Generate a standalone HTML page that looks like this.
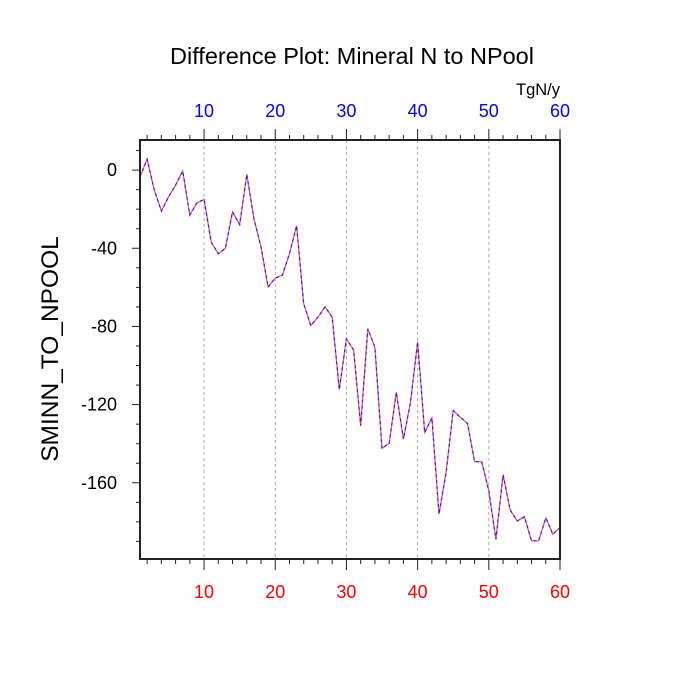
<!DOCTYPE html>
<html><head><meta charset="utf-8"><style>
html,body{margin:0;padding:0;background:#fff;}
svg{display:block;font-family:"Liberation Sans",sans-serif;}
</style></head><body>
<svg id="chart" width="700" height="700" xmlns="http://www.w3.org/2000/svg">
<text x="352" y="64" font-size="23.5" text-anchor="middle">Difference Plot: Mineral N to NPool</text>
<text x="560" y="95" font-size="16.5" text-anchor="end">TgN/y</text>
<text transform="translate(58,349) rotate(-90)" font-size="24.5" text-anchor="middle">SMINN_TO_NPOOL</text>
<g id="grid"></g>
<g id="axes"></g>
<g id="series"></g>
<rect x="140" y="140" width="420" height="419" fill="none" stroke="#222" stroke-width="2"/>
</svg>
<script>
const xValues = Array.from({length:60},(_,i)=>i+1);
const seriesValues = [-3.4,5.6,-10,-21,-13.7,-7.7,-0.5,-23,-16.8,-15,-36.8,-42.9,-40,-21.4,-27.9,-2.2,-24.8,-39.3,-59.8,-55.2,-53.8,-42.7,-28.5,-68.4,-79.5,-75.2,-70,-75.2,-112.3,-86.3,-92,-130.8,-81.2,-90.6,-142.4,-139.8,-113.7,-137.6,-118.8,-88,-134.2,-126.8,-176,-154.7,-123,-126.5,-129.6,-149.2,-149.2,-164,-188.9,-155.9,-174,-179.5,-177.4,-189.7,-189.7,-178,-186.3,-183];
const xTickLabels = [10,20,30,40,50,60];
const yTickLabels = [0,-40,-80,-120,-160];
const NS='http://www.w3.org/2000/svg';
const X0=140,X1=560,Y0=140,Y1=559, xMin=1,xMax=60,yMin=-199,yMax=15.4;
const sx=v=>X0+(v-xMin)/(xMax-xMin)*(X1-X0);
const sy=v=>Y1-(v-yMin)/(yMax-yMin)*(Y1-Y0);
function mk(tag,attrs,parent){const e=document.createElementNS(NS,tag);for(const k in attrs)e.setAttribute(k,attrs[k]);parent.appendChild(e);return e;}
const grid=document.getElementById('grid'),axes=document.getElementById('axes'),series=document.getElementById('series');
xTickLabels.forEach(v=>{
  if(v<xMax){const g=mk('line',{x1:sx(v),x2:sx(v),y1:Y0,y2:Y1,stroke:'#aaa','stroke-width':1,'stroke-dasharray':'3,3'},grid);
  
  }
  const t=mk('text',{x:sx(v),y:117,'font-size':18,'text-anchor':'middle',fill:'#0000ff'},axes);t.textContent=v;
  
  
  const b=mk('text',{x:sx(v),y:598,'font-size':18,'text-anchor':'middle',fill:'#ff0000'},axes);b.textContent=v;
  
  
});
for(let v=2;v<=60;v+=2){
  const major=v%10===0, len=major?11:5;
  const a=mk('line',{x1:sx(v),x2:sx(v),y1:Y0,y2:Y0-len,stroke:'#222','stroke-width':1},axes);
  
  
  const b=mk('line',{x1:sx(v),x2:sx(v),y1:Y1,y2:Y1+len,stroke:'#222','stroke-width':1},axes);
  
  
}
for(let v=10;v>=-190;v-=10){
  const major=v%40===0, len=major?8:4;
  const a=mk('line',{x1:X0,x2:X0-len,y1:sy(v),y2:sy(v),stroke:'#222','stroke-width':1},axes);
  
  
}
yTickLabels.forEach(v=>{
  const t=mk('text',{x:117,y:sy(v)+6,'font-size':18,'text-anchor':'end',fill:'#000'},axes);t.textContent=v;
  
  
});
const pts=xValues.map((x,i)=>sx(x).toFixed(1)+','+sy(seriesValues[i]).toFixed(1)).join(' ');
const r=mk('polyline',{points:pts,fill:'none',stroke:'#ff5050','stroke-width':1.2},series);


const bl=mk('polyline',{points:pts,fill:'none',stroke:'#2020ff','stroke-width':1.2,'stroke-dasharray':'3,3'},series);


</script>
</body></html>
